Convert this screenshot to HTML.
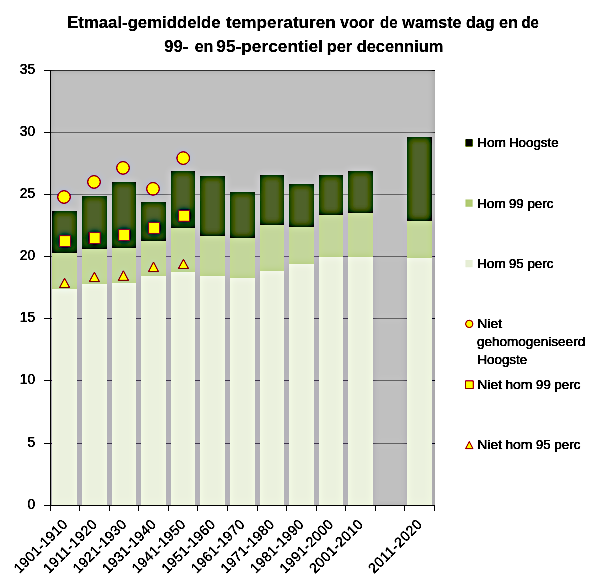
<!DOCTYPE html>
<html lang="nl"><head><meta charset="utf-8"><title>Etmaal-gemiddelde temperaturen</title>
<style>html,body{margin:0;padding:0;background:#fff}svg{display:block}text{font-family:"Liberation Sans",Arial,sans-serif;fill:#000}</style></head><body>
<svg width="606" height="587" viewBox="0 0 606 587">
<defs>
<filter id="usm" filterUnits="userSpaceOnUse" x="0" y="0" width="606" height="587" color-interpolation-filters="linearRGB">
<feGaussianBlur in="SourceGraphic" stdDeviation="3.5" result="b"/>
<feComposite in="SourceGraphic" in2="b" operator="arithmetic" k1="0" k2="1.45" k3="-0.45" k4="0"/>
</filter>
</defs>
<g filter="url(#usm)">
<rect x="0" y="0" width="606" height="587" fill="#fff"/>
<rect x="50" y="70" width="385" height="436" fill="#c0c0c0"/>
<rect x="50" y="443" width="385" height="1" fill="#868686"/>
<rect x="50" y="380" width="385" height="1" fill="#868686"/>
<rect x="50" y="318" width="385" height="1" fill="#868686"/>
<rect x="50" y="256" width="385" height="1" fill="#868686"/>
<rect x="50" y="194" width="385" height="1" fill="#868686"/>
<rect x="50" y="132" width="385" height="1" fill="#868686"/>
<rect x="50" y="70" width="385" height="1" fill="#868686"/>
<rect x="52" y="289" width="25" height="216" fill="#ebf1de"/>
<rect x="52" y="253" width="25" height="36" fill="#c3d69b"/>
<rect x="52" y="211" width="25" height="42" fill="#4f6228"/>
<rect x="82" y="284" width="25" height="221" fill="#ebf1de"/>
<rect x="82" y="249" width="25" height="35" fill="#c3d69b"/>
<rect x="82" y="196" width="25" height="53" fill="#4f6228"/>
<rect x="112" y="283" width="24" height="222" fill="#ebf1de"/>
<rect x="112" y="248" width="24" height="35" fill="#c3d69b"/>
<rect x="112" y="182" width="24" height="66" fill="#4f6228"/>
<rect x="141" y="276" width="25" height="229" fill="#ebf1de"/>
<rect x="141" y="241" width="25" height="35" fill="#c3d69b"/>
<rect x="141" y="202" width="25" height="39" fill="#4f6228"/>
<rect x="171" y="272" width="24" height="233" fill="#ebf1de"/>
<rect x="171" y="228" width="24" height="44" fill="#c3d69b"/>
<rect x="171" y="171" width="24" height="57" fill="#4f6228"/>
<rect x="200" y="276" width="25" height="229" fill="#ebf1de"/>
<rect x="200" y="236" width="25" height="40" fill="#c3d69b"/>
<rect x="200" y="176" width="25" height="60" fill="#4f6228"/>
<rect x="230" y="278" width="25" height="227" fill="#ebf1de"/>
<rect x="230" y="238" width="25" height="40" fill="#c3d69b"/>
<rect x="230" y="192" width="25" height="46" fill="#4f6228"/>
<rect x="260" y="271" width="24" height="234" fill="#ebf1de"/>
<rect x="260" y="225" width="24" height="46" fill="#c3d69b"/>
<rect x="260" y="175" width="24" height="50" fill="#4f6228"/>
<rect x="289" y="264" width="25" height="241" fill="#ebf1de"/>
<rect x="289" y="227" width="25" height="37" fill="#c3d69b"/>
<rect x="289" y="184" width="25" height="43" fill="#4f6228"/>
<rect x="319" y="257" width="24" height="248" fill="#ebf1de"/>
<rect x="319" y="215" width="24" height="42" fill="#c3d69b"/>
<rect x="319" y="175" width="24" height="40" fill="#4f6228"/>
<rect x="348" y="257" width="25" height="248" fill="#ebf1de"/>
<rect x="348" y="213" width="25" height="44" fill="#c3d69b"/>
<rect x="348" y="171" width="25" height="42" fill="#4f6228"/>
<rect x="407" y="258" width="25" height="247" fill="#ebf1de"/>
<rect x="407" y="221" width="25" height="37" fill="#c3d69b"/>
<rect x="407" y="137" width="25" height="84" fill="#4f6228"/>
<path d="M64.60 278.25L69.55 287.55L59.65 287.55Z" fill="#ffff00" stroke="#94002a" stroke-width="1" stroke-linejoin="miter"/>
<rect x="59.55" y="235.65" width="10.9" height="10.9" fill="#ffff00" stroke="#94002a" stroke-width="1"/>
<circle cx="64.00" cy="197.00" r="6.25" fill="#ffff00" stroke="#94002a" stroke-width="1"/>
<path d="M94.40 272.25L99.35 281.55L89.45 281.55Z" fill="#ffff00" stroke="#94002a" stroke-width="1" stroke-linejoin="miter"/>
<rect x="89.25" y="232.60" width="10.9" height="10.9" fill="#ffff00" stroke="#94002a" stroke-width="1"/>
<circle cx="94.00" cy="181.95" r="6.25" fill="#ffff00" stroke="#94002a" stroke-width="1"/>
<path d="M123.40 270.85L128.35 280.35L118.45 280.35Z" fill="#ffff00" stroke="#94002a" stroke-width="1" stroke-linejoin="miter"/>
<rect x="118.70" y="229.55" width="10.9" height="10.9" fill="#ffff00" stroke="#94002a" stroke-width="1"/>
<circle cx="123.00" cy="167.90" r="6.25" fill="#ffff00" stroke="#94002a" stroke-width="1"/>
<path d="M153.50 262.05L158.45 271.55L148.55 271.55Z" fill="#ffff00" stroke="#94002a" stroke-width="1" stroke-linejoin="miter"/>
<rect x="148.65" y="222.50" width="10.9" height="10.9" fill="#ffff00" stroke="#94002a" stroke-width="1"/>
<circle cx="153.00" cy="188.85" r="6.25" fill="#ffff00" stroke="#94002a" stroke-width="1"/>
<path d="M183.45 259.35L188.40 268.45L178.50 268.45Z" fill="#ffff00" stroke="#94002a" stroke-width="1" stroke-linejoin="miter"/>
<rect x="178.65" y="210.35" width="10.9" height="10.9" fill="#ffff00" stroke="#94002a" stroke-width="1"/>
<circle cx="183.20" cy="158.10" r="6.25" fill="#ffff00" stroke="#94002a" stroke-width="1"/>
<rect x="50" y="70" width="1" height="436" fill="#555555"/>
<rect x="50" y="505" width="385" height="1" fill="#555555"/>
<rect x="44" y="505" width="6" height="1" fill="#555555"/>
<rect x="44" y="443" width="6" height="1" fill="#555555"/>
<rect x="44" y="380" width="6" height="1" fill="#555555"/>
<rect x="44" y="318" width="6" height="1" fill="#555555"/>
<rect x="44" y="256" width="6" height="1" fill="#555555"/>
<rect x="44" y="194" width="6" height="1" fill="#555555"/>
<rect x="44" y="132" width="6" height="1" fill="#555555"/>
<rect x="44" y="70" width="6" height="1" fill="#555555"/>
<rect x="50" y="506" width="1" height="5" fill="#555555"/>
<rect x="79" y="506" width="1" height="5" fill="#555555"/>
<rect x="109" y="506" width="1" height="5" fill="#555555"/>
<rect x="138" y="506" width="1" height="5" fill="#555555"/>
<rect x="168" y="506" width="1" height="5" fill="#555555"/>
<rect x="197" y="506" width="1" height="5" fill="#555555"/>
<rect x="227" y="506" width="1" height="5" fill="#555555"/>
<rect x="257" y="506" width="1" height="5" fill="#555555"/>
<rect x="286" y="506" width="1" height="5" fill="#555555"/>
<rect x="316" y="506" width="1" height="5" fill="#555555"/>
<rect x="345" y="506" width="1" height="5" fill="#555555"/>
<rect x="375" y="506" width="1" height="5" fill="#555555"/>
<rect x="404" y="506" width="1" height="5" fill="#555555"/>
<rect x="434" y="506" width="1" height="5" fill="#555555"/>
<text x="35.1" y="508.90" font-size="13.8" stroke="#000" stroke-width="0.1" text-anchor="end">0</text>
<text x="35.1" y="446.90" font-size="13.8" stroke="#000" stroke-width="0.1" text-anchor="end">5</text>
<text x="35.1" y="383.90" font-size="13.8" stroke="#000" stroke-width="0.1" text-anchor="end">10</text>
<text x="35.1" y="321.90" font-size="13.8" stroke="#000" stroke-width="0.1" text-anchor="end">15</text>
<text x="35.1" y="259.90" font-size="13.8" stroke="#000" stroke-width="0.1" text-anchor="end">20</text>
<text x="35.1" y="197.90" font-size="13.8" stroke="#000" stroke-width="0.1" text-anchor="end">25</text>
<text x="35.1" y="135.90" font-size="13.8" stroke="#000" stroke-width="0.1" text-anchor="end">30</text>
<text x="35.1" y="73.90" font-size="13.8" stroke="#000" stroke-width="0.1" text-anchor="end">35</text>
<text transform="translate(68.18 525.30) rotate(-45)" x="-69" y="0" font-size="14" stroke="#000" stroke-width="0.1" textLength="69" lengthAdjust="spacing">1901-1910</text>
<text transform="translate(97.73 525.30) rotate(-45)" x="-69" y="0" font-size="14" stroke="#000" stroke-width="0.1" textLength="69" lengthAdjust="spacing">1911-1920</text>
<text transform="translate(127.28 525.30) rotate(-45)" x="-69" y="0" font-size="14" stroke="#000" stroke-width="0.1" textLength="69" lengthAdjust="spacing">1921-1930</text>
<text transform="translate(156.83 525.30) rotate(-45)" x="-69" y="0" font-size="14" stroke="#000" stroke-width="0.1" textLength="69" lengthAdjust="spacing">1931-1940</text>
<text transform="translate(186.38 525.30) rotate(-45)" x="-69" y="0" font-size="14" stroke="#000" stroke-width="0.1" textLength="69" lengthAdjust="spacing">1941-1950</text>
<text transform="translate(215.93 525.30) rotate(-45)" x="-69" y="0" font-size="14" stroke="#000" stroke-width="0.1" textLength="69" lengthAdjust="spacing">1951-1960</text>
<text transform="translate(245.48 525.30) rotate(-45)" x="-69" y="0" font-size="14" stroke="#000" stroke-width="0.1" textLength="69" lengthAdjust="spacing">1961-1970</text>
<text transform="translate(275.02 525.30) rotate(-45)" x="-69" y="0" font-size="14" stroke="#000" stroke-width="0.1" textLength="69" lengthAdjust="spacing">1971-1980</text>
<text transform="translate(304.57 525.30) rotate(-45)" x="-69" y="0" font-size="14" stroke="#000" stroke-width="0.1" textLength="69" lengthAdjust="spacing">1981-1990</text>
<text transform="translate(334.12 525.30) rotate(-45)" x="-69" y="0" font-size="14" stroke="#000" stroke-width="0.1" textLength="69" lengthAdjust="spacing">1991-2000</text>
<text transform="translate(363.68 525.30) rotate(-45)" x="-69" y="0" font-size="14" stroke="#000" stroke-width="0.1" textLength="69" lengthAdjust="spacing">2001-2010</text>
<text transform="translate(422.77 525.30) rotate(-45)" x="-69" y="0" font-size="14" stroke="#000" stroke-width="0.1" textLength="69" lengthAdjust="spacing">2011-2020</text>
<text y="27.7" font-size="17.4" font-weight="bold"><tspan x="67.20" textLength="153.47" lengthAdjust="spacingAndGlyphs">Etmaal-gemiddelde</tspan> <tspan x="226.09" textLength="109.77" lengthAdjust="spacingAndGlyphs">temperaturen</tspan> <tspan x="340.35" textLength="33.87" lengthAdjust="spacingAndGlyphs">voor</tspan> <tspan x="379.98" textLength="17.53" lengthAdjust="spacingAndGlyphs">de</tspan> <tspan x="402.35" textLength="59.21" lengthAdjust="spacingAndGlyphs">wamste</tspan> <tspan x="465.94" textLength="28.74" lengthAdjust="spacingAndGlyphs">dag</tspan> <tspan x="498.96" textLength="19.05" lengthAdjust="spacingAndGlyphs">en</tspan> <tspan x="521.39" textLength="17.31" lengthAdjust="spacingAndGlyphs">de</tspan></text>
<text y="51.5" font-size="17.4" font-weight="bold"><tspan x="164.33" textLength="24.04" lengthAdjust="spacingAndGlyphs">99-</tspan> <tspan x="194.67" textLength="18.72" lengthAdjust="spacingAndGlyphs">en</tspan> <tspan x="216.31" textLength="106.69" lengthAdjust="spacingAndGlyphs">95-percentiel</tspan> <tspan x="326.63" textLength="25.60" lengthAdjust="spacingAndGlyphs">per</tspan> <tspan x="356.73" textLength="86.57" lengthAdjust="spacingAndGlyphs">decennium</tspan></text>
<rect x="465.4" y="139.2" width="7.3" height="7.4" fill="#4f6228"/>
<text y="147.3" font-size="13.3" stroke="#000" stroke-width="0.22"><tspan x="477.13" textLength="28.86" lengthAdjust="spacingAndGlyphs">Hom</tspan> <tspan x="509.01" textLength="49.59" lengthAdjust="spacingAndGlyphs">Hoogste</tspan></text>
<rect x="465.4" y="199.4" width="7.3" height="7.4" fill="#c3d69b"/>
<text y="207.7" font-size="13.3" stroke="#000" stroke-width="0.22"><tspan x="477.09" textLength="28.60" lengthAdjust="spacingAndGlyphs">Hom</tspan> <tspan x="508.89" textLength="14.74" lengthAdjust="spacingAndGlyphs">99</tspan> <tspan x="527.44" textLength="26.01" lengthAdjust="spacingAndGlyphs">perc</tspan></text>
<rect x="465.4" y="259.9" width="7.3" height="7.4" fill="#ebf1de"/>
<text y="268.0" font-size="13.3" stroke="#000" stroke-width="0.22"><tspan x="477.09" textLength="28.60" lengthAdjust="spacingAndGlyphs">Hom</tspan> <tspan x="508.89" textLength="14.65" lengthAdjust="spacingAndGlyphs">95</tspan> <tspan x="527.44" textLength="26.01" lengthAdjust="spacingAndGlyphs">perc</tspan></text>
<circle cx="469.25" cy="323.9" r="3.65" fill="#ffff00" stroke="#a00028" stroke-width="0.8"/>
<text y="328.3" font-size="13.3" stroke="#000" stroke-width="0.22"><tspan x="477.36" textLength="24.73" lengthAdjust="spacingAndGlyphs">Niet</tspan></text>
<text y="346.3" font-size="13.3" stroke="#000" stroke-width="0.22"><tspan x="477.03" textLength="108.13" lengthAdjust="spacingAndGlyphs">gehomogeniseerd</tspan></text>
<text y="364.3" font-size="13.3" stroke="#000" stroke-width="0.22"><tspan x="477.41" textLength="49.69" lengthAdjust="spacingAndGlyphs">Hoogste</tspan></text>
<rect x="465.6" y="380.9" width="7.6" height="7.6" fill="#ffff00" stroke="#a00028" stroke-width="0.8"/>
<text y="388.9" font-size="13.3" stroke="#000" stroke-width="0.22"><tspan x="477.36" textLength="24.73" lengthAdjust="spacingAndGlyphs">Niet</tspan> <tspan x="505.23" textLength="27.28" lengthAdjust="spacingAndGlyphs">hom</tspan> <tspan x="536.10" textLength="14.63" lengthAdjust="spacingAndGlyphs">99</tspan> <tspan x="554.34" textLength="26.11" lengthAdjust="spacingAndGlyphs">perc</tspan></text>
<path d="M469.3 441.6L473.0 448.6L465.6 448.6Z" fill="#ffff00" stroke="#a00028" stroke-width="0.8"/>
<text y="449.2" font-size="13.3" stroke="#000" stroke-width="0.22"><tspan x="477.36" textLength="24.73" lengthAdjust="spacingAndGlyphs">Niet</tspan> <tspan x="505.23" textLength="27.28" lengthAdjust="spacingAndGlyphs">hom</tspan> <tspan x="536.10" textLength="14.54" lengthAdjust="spacingAndGlyphs">95</tspan> <tspan x="554.34" textLength="26.11" lengthAdjust="spacingAndGlyphs">perc</tspan></text>
</g></svg></body></html>
